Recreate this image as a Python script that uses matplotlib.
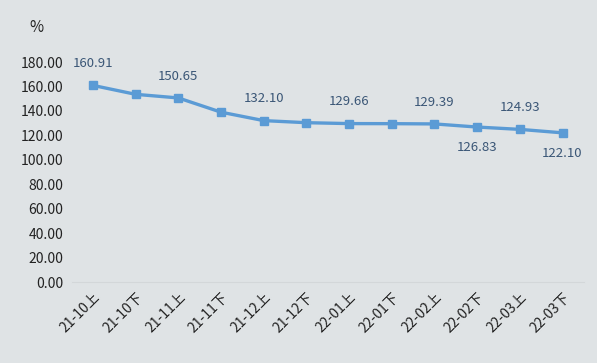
import matplotlib
matplotlib.use("Agg")
import matplotlib.pyplot as plt

plt.rcParams['font.family'] = ['Noto Sans CJK SC', 'DejaVu Sans']

categories = ["21-10上", "21-10下", "21-11上", "21-11下", "21-12上", "21-12下",
              "22-01上", "22-01下", "22-02上", "22-02下", "22-03上", "22-03下"]
values = [160.91, 153.6, 150.65, 139.0, 132.10, 130.4, 129.66, 129.6, 129.39, 126.83, 124.93, 122.10]
labels = ["160.91", None, "150.65", None, "132.10", None, "129.66", None, "129.39", "126.83", "124.93", "122.10"]
label_pos = ["above", None, "above", None, "above", None, "above", None, "above", "below", "above", "below"]
yticks = [0, 20, 40, 60, 80, 100, 120, 140, 160, 180]

bg = "#dfe3e5"
fig = plt.figure(figsize=(5.97, 3.63), dpi=100, facecolor=bg)
ax = fig.add_axes([0.12, 0.223, 0.858, 0.606], facecolor=bg)

x = list(range(len(categories)))
ax.plot(x, values, color="#5b9bd5", lw=2.4, marker="s", ms=6, mfc="#5b9bd5", mec="#5b9bd5")

for xi, v, lab, pos in zip(x, values, labels, label_pos):
    if lab is None:
        continue
    off = 11 if pos == "above" else -10
    ax.annotate(lab, (xi, v), xytext=(0, off), textcoords="offset points",
                ha="center", va="bottom" if pos == "above" else "top",
                fontsize=9.5, color="#3a5676")

ax.set_xlim(-0.5, len(categories) - 0.5)
ax.set_ylim(0, 180)
ax.set_yticks(yticks)
ax.set_yticklabels([f"{t:.2f}" for t in yticks], fontsize=10, color="#222222")
ax.set_xticks(x)
ax.set_xticklabels(categories, rotation=45, ha="right", rotation_mode="anchor",
                   fontsize=10, color="#222222")
ax.tick_params(axis="y", length=0, pad=6)
ax.tick_params(axis="x", length=0, pad=6)
for s in ["top", "right", "left"]:
    ax.spines[s].set_visible(False)
ax.spines["bottom"].set_color("#d3d7d9")
ax.spines["bottom"].set_linewidth(0.8)

fig.text(36/597, 1 - 27/363, "%", fontsize=11, ha="center", va="center", color="#222222")

fig.savefig("out.png", dpi=100, facecolor=bg)
